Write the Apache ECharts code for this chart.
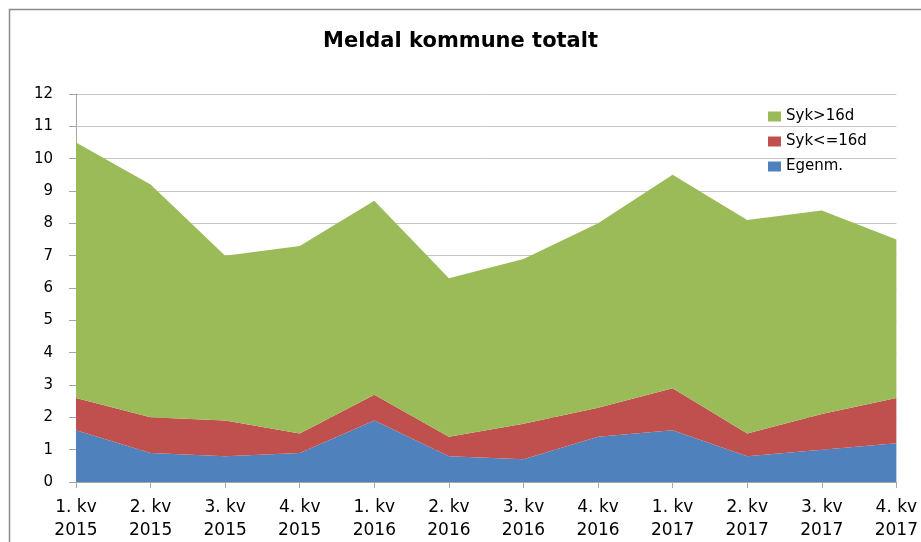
<!DOCTYPE html>
<html>
<head>
<meta charset="utf-8">
<title>Meldal kommune totalt</title>
<script src="https://cdn.jsdelivr.net/npm/echarts@6/dist/echarts.min.js"></script>
<style>
  html, body { margin: 0; padding: 0; background: #fff; }
  #chart { width: 921px; height: 542px; }
</style>
</head>
<body>
<div id="chart"></div>
<script>
// kvartal-etiketter
const quarters = ['1. kv\n2015', '2. kv\n2015', '3. kv\n2015', '4. kv\n2015',
  '1. kv\n2016', '2. kv\n2016', '3. kv\n2016', '4. kv\n2016',
  '1. kv\n2017', '2. kv\n2017', '3. kv\n2017', '4. kv\n2017']

// verdier per serie (stables oppå hverandre)
const egenm = [1.6, 0.9, 0.8, 0.9, 1.9, 0.8, 0.7, 1.4, 1.6, 0.8, 1.0, 1.2]
const sykKort = [1.0, 1.1, 1.1, 0.6, 0.8, 0.6, 1.1, 0.9, 1.3, 0.7, 1.1, 1.4]
const sykLang = [7.9, 7.2, 5.1, 5.8, 6.0, 4.9, 5.1, 5.7, 6.6, 6.6, 6.3, 4.9]

const yTicks = { min: 0, max: 12, interval: 1 }

const font = 'DejaVu Sans, Verdana, sans-serif'

const chart = echarts.init(document.getElementById('chart'))

const areaSeries = (name, data, color) => ({
  name: name,
  type: 'line',
  stack: 'total',
  data: data,
  symbol: 'none',
  lineStyle: { width: 0 },
  areaStyle: { color: color, opacity: 1 },
  itemStyle: { color: color },
  emphasis: { disabled: true }
})

chart.setOption({
  animation: false,
  title: {
    text: 'Meldal kommune totalt',
    left: 'center',
    top: 26,
    textStyle: { fontFamily: font, fontSize: 21, fontWeight: 'bold', color: '#000' }
  },
  legend: {
    orient: 'vertical',
    left: 763,
    top: 104,
    itemWidth: 13,
    itemHeight: 10,
    itemGap: 10,
    icon: 'rect',
    data: ['Syk>16d', 'Syk<=16d', 'Egenm.'],
    textStyle: { fontFamily: font, fontSize: 15, color: '#000' }
  },
  graphic: [{
    type: 'rect',
    shape: { x: 9.5, y: 9.5, width: 1000, height: 1000 },
    style: { fill: 'none', stroke: '#8a8a8a', lineWidth: 1.5 },
    silent: true
  }],
  grid: { left: 76, right: 23, top: 94, bottom: 57 },
  xAxis: {
    type: 'category',
    boundaryGap: false,
    data: quarters,
    axisLine: { lineStyle: { color: '#a6a6a6' } },
    axisTick: { show: true, length: 6, lineStyle: { color: '#a6a6a6' } },
    axisLabel: {
      fontFamily: font, fontSize: 17, color: '#000',
      lineHeight: 23, margin: 14, interval: 0
    },
    splitLine: { show: false }
  },
  yAxis: {
    type: 'value',
    min: yTicks.min,
    max: yTicks.max,
    interval: yTicks.interval,
    axisLine: { show: true, lineStyle: { color: '#a6a6a6' } },
    axisTick: { show: true, length: 7, lineStyle: { color: '#a6a6a6' } },
    axisLabel: { fontFamily: font, fontSize: 15, color: '#000', margin: 23 },
    splitLine: { lineStyle: { color: '#c4c4c4', width: 1 } }
  },
  series: [
    areaSeries('Egenm.', egenm, '#4f81bd'),
    areaSeries('Syk<=16d', sykKort, '#c0504d'),
    areaSeries('Syk>16d', sykLang, '#9bbb59')
  ]
})
</script>
</body>
</html>
